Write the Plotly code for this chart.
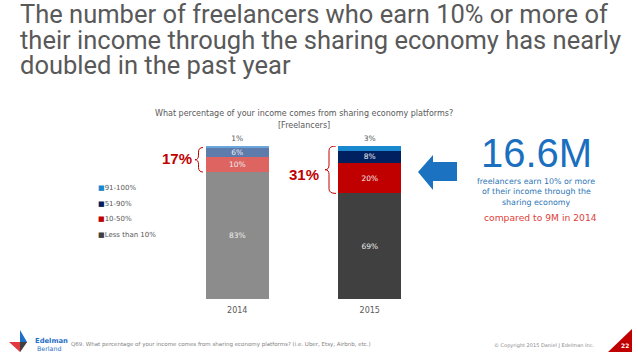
import plotly.graph_objects as go

W, H = 638, 359
def px(x): return x / W
def py(y): return 1 - y / H

years = ["2014", "2015"]
categories = ["Less than 10%", "10-50%", "51-90%", "91-100%"]
lt10 = [83, 69]
p10_50 = [10, 20]
p51_90 = [6, 8]
p91_100 = [1, 3]
values = [lt10, p10_50, p51_90, p91_100]
bracket_labels = ["17%", "31%"]

colors_2014 = ["#8c8c8c", "#dd6461", "#5d7bab", "#6aa6da"]
colors_2015 = ["#404040", "#c00000", "#002060", "#1a88cf"]

FONT = "DejaVu Sans, sans-serif"
TFONT = "Roboto, sans-serif"

fig = go.Figure()
for i, (cat, vals) in enumerate(zip(categories, values)):
    top = i == len(categories) - 1
    fig.add_trace(go.Bar(
        x=years, y=vals, name=cat, showlegend=False,
        marker=dict(color=[colors_2014[i], colors_2015[i]], line=dict(width=0)),
        text=[f"{v}%" for v in vals],
        textposition="outside" if top else "inside",
        insidetextanchor="middle",
        constraintext="none",
        textfont=dict(size=7.5, family=FONT,
                      color="#595959" if top else "#eeeeee"),
        cliponaxis=False,
    ))

fig.update_layout(
    width=W, height=H,
    margin=dict(l=0, r=0, t=0, b=0),
    paper_bgcolor="white", plot_bgcolor="white",
    barmode="stack", bargap=0.525,
    font=dict(family=FONT, color="#595959"),
    xaxis=dict(domain=[px(171), px(436)], range=[-0.5, 1.5], autorange=False,
               showgrid=False, showline=False, type="category",
               zeroline=False, ticks="", ticklabelstandoff=5,
               tickfont=dict(size=8, color="#595959")),
    yaxis=dict(domain=[py(299), py(146)], range=[0, 100], visible=False),
    showlegend=False,
)

ann = []
def add_text(text, x, y, size, color, xanchor="center", bold=False, family=FONT):
    ann.append(dict(text=f"<b>{text}</b>" if bold else text, x=px(x), y=py(y),
                    xref="paper", yref="paper", showarrow=False,
                    xanchor=xanchor, yanchor="middle",
                    font=dict(size=size, color=color, family=family)))

title_lines = ["The number of freelancers who earn 10% or more of",
               "their income through the sharing economy has nearly",
               "doubled in the past year"]
for k, line in enumerate(title_lines):
    add_text(line, 18, 14 + 25.5 * k, 25.5, "#595959", xanchor="left", family=TFONT)

add_text("What percentage of your income comes from sharing economy platforms?", 304, 114, 8, "#595959")
add_text("[Freelancers]", 304, 125, 8, "#595959")

# legend built as text entries
legend_colors = colors_2015
for k, i in enumerate(reversed(range(len(categories)))):
    add_text(f"<span style='color:{legend_colors[i]}'>■</span>{categories[i]}",
             96, 188 + 15.6 * k, 7, "#595959", xanchor="left")

add_text("16.6M", 536, 153, 40, "#1a6fbf", family="Liberation Sans, Arial, sans-serif")
for k, line in enumerate(["freelancers earn 10% or more", "of their income through the", "sharing economy"]):
    add_text(line, 536, 181 + 10.5 * k, 7.9, "#2e75b6")
add_text("compared to 9M in 2014", 540, 217, 9.2, "#e0403a")

add_text(bracket_labels[0], 177, 158, 15, "#c00000", bold=True, family="Liberation Sans, Arial, sans-serif")
add_text(bracket_labels[1], 304, 174, 15, "#c00000", bold=True, family="Liberation Sans, Arial, sans-serif")

# footer
add_text("<b>Edelman</b>", 33, 341, 6.8, "#1f6fc6", xanchor="left")
add_text("Berland", 35, 348.5, 6.3, "#1f6fc6", xanchor="left")
add_text("Q69. What percentage of your income comes from sharing economy platforms? (i.e. Uber, Etsy, Airbnb, etc.)",
         69, 344, 5.5, "#7f7f7f", xanchor="left")
add_text("© Copyright 2015 Daniel J Edelman Inc.", 492, 345, 5.0, "#8c8c8c", xanchor="left")
add_text("<b>22</b>", 625, 345, 6, "white")

fig.update_layout(annotations=ann)

shapes = []
def bracket(xl, xm, xr, top, bottom):
    c = 3.0
    mid = (top + bottom) / 2
    path = (f"M {px(xr)},{top} Q {px(xm)},{top} {px(xm)},{top - c} "
            f"L {px(xm)},{mid + c} Q {px(xm)},{mid} {px(xl)},{mid} "
            f"Q {px(xm)},{mid} {px(xm)},{mid - c} "
            f"L {px(xm)},{bottom + c} Q {px(xm)},{bottom} {px(xr)},{bottom}")
    return dict(type="path", path=path, xref="paper", yref="y",
                line=dict(color="#c00000", width=1))
shapes.append(bracket(195, 198.5, 203, 100 - 1, lt10[0]))
shapes.append(bracket(325, 329, 336, 100, lt10[1]))

def poly(pts, color):
    return dict(type="path", xref="paper", yref="paper",
                path="M " + " L ".join(f"{px(a)},{py(b)}" for a, b in pts) + " Z",
                fillcolor=color, line=dict(width=0))

shapes.append(poly([(418, 172), (433, 155), (433, 162), (457, 162), (457, 181), (433, 181), (433, 190)], "#1b72c0"))
# logo
shapes.append(poly([(20, 330), (27, 342), (20, 342)], "#1f6fc6"))
shapes.append(poly([(9, 342), (27, 342), (20, 352)], "#e03a3e"))
shapes.append(poly([(20, 342), (27, 342), (20, 352)], "#404040"))
# page number triangle
shapes.append(poly([(608, 352), (632, 352), (632, 329)], "#c00000"))

fig.update_layout(shapes=shapes)
fig.write_html("out.html", config={"displayModeBar": False},
               post_script="document.body.style.margin='0';")
